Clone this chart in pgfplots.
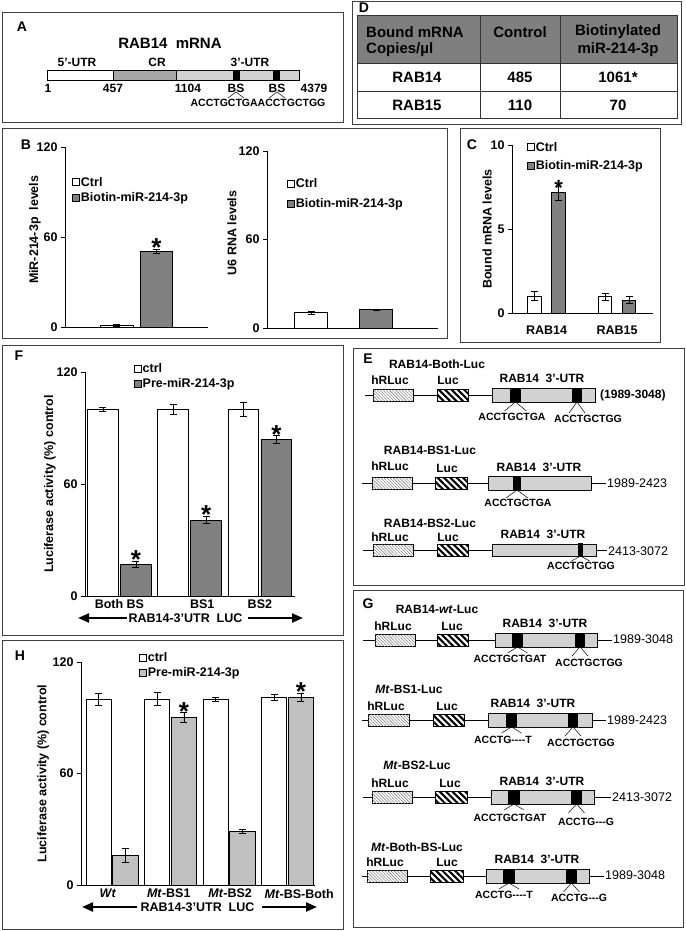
\documentclass[border=0pt]{standalone}
\usepackage{pgfplots}
\pgfplotsset{compat=1.18}
\usepackage{fontspec}
\setmainfont{Liberation Sans}
\usetikzlibrary{patterns,patterns.meta,arrows.meta}
\newcommand{\fs}[1]{\fontsize{#1}{#1}\selectfont}

\definecolor{darkbar}{HTML}{808080}
\definecolor{lightbar}{HTML}{C0C0C0}
\definecolor{crgray}{HTML}{A6A6A6}
\definecolor{hdrgray}{HTML}{7F7F7F}

\tikzset{
 lab/.style={font=\bfseries\fs{12}, inner sep=0pt},
 seq/.style={font=\bfseries\fs{10.5}, inner sep=0pt},
 num/.style={font=\fs{12.5}, inner sep=0pt, anchor=west},
 plet/.style={font=\bfseries\fs{14}, inner sep=0pt},
 sig/.style={font=\bfseries\fs{26}, inner sep=0pt, anchor=center},
 frame/.style={draw=black!75, line width=0.8pt},
 bigarrow/.style={line width=2.2pt, -{Triangle[length=11pt,width=9pt]}},
 tab/.style={font=\bfseries\fs{15}, inner sep=0pt},
}
% boxes: x1 x2 ycenter
\newcommand{\hR}[3]{\draw[line width=0.5pt, fill=white, postaction={pattern={Lines[angle=-45,distance=2.2pt,line width=0.4pt]}, pattern color=black!60}] (#1,#3-6) rectangle (#2,#3+6);}
\newcommand{\Lu}[3]{\draw[line width=0.5pt, fill=white, postaction={pattern={Lines[angle=-45,distance=4.5pt,line width=2.1pt]}, pattern color=black}] (#1,#3-6) rectangle (#2,#3+6);}
\newcommand{\UTR}[4]{\draw[line width=0.5pt, fill=white, postaction={pattern={Dots[distance=2pt,radius=0.6pt]}, pattern color=black!75}] (#1,#2) rectangle (#3,#4);}
\newcommand{\BS}[3]{\fill (#1,#3-7) rectangle (#2,#3+7);}
\newcommand{\Vee}[4]{\draw[line width=0.5pt] (#1-#3,#2+#4) -- (#1,#2) -- (#1+#3,#2+#4);}

\pgfplotsset{
 sqleg/.style={legend image code/.code={\draw[##1, line width=0.6pt] (0pt,-3.5pt) rectangle (7pt,3.5pt);}},
 panel/.style={
   scale only axis, ybar, enlargelimits=false, clip=false,
   axis x line*=bottom, axis y line*=left,
   axis line style={black, line width=0.8pt},
   ymin=0,
   tick align=outside, major tick length=4pt,
   ytick style={black, line width=0.8pt},
   xtick style={draw=none},
   tick label style={font=\bfseries\fs{12.5}},
   /pgf/number format/assume math mode=true,
   ylabel style={font=\bfseries\fs{12.5}, anchor=center},
   legend cell align=left,
   legend style={draw=none, fill=none, font=\bfseries\fs{12.5}, anchor=north west, inner sep=0pt, row sep=3pt, nodes={inner sep=1pt}},
   error bars/y dir=both, error bars/y explicit,
   error bars/error bar style={black, line width=0.7pt},
   error bars/error mark options={rotate=90, black, mark size=3.5pt, line width=0.7pt},
   every axis plot/.append style={line width=0.8pt},
 },
}

\begin{document}
\begin{tikzpicture}[x=1pt,y=1pt]
\path[use as bounding box] (0,0) rectangle (685,-931);

\begin{scope}[x=1pt,y=-1pt]
% frames
\draw[frame] (2,12) rectangle (343,122);
\draw[frame] (352,1) rectangle (681,124);
\draw[frame] (2,128) rectangle (447,338);
\draw[frame] (460,128) rectangle (660,342);
\draw[frame] (2,345) rectangle (343,635);
\draw[frame] (353,348) rectangle (684,585);
\draw[frame] (353,590) rectangle (683,927);
\draw[frame] (2,640) rectangle (343,929);
% panel letters
\node[plet] at (22,27) {A};
\node[plet] at (364,8) {D};
\node[plet] at (26,145) {B};
\node[plet] at (472,145) {C};
\node[plet] at (19,356) {F};
\node[plet] at (368,359) {E};
\node[plet] at (368,604) {G};
\node[plet] at (20,656) {H};

% ---- A ----
\node[font=\bfseries\fs{15}, inner sep=0pt] at (170,43) {RAB14\ \ mRNA};
\node[lab] at (77,62) {5’-UTR};
\node[lab] at (157,62) {CR};
\node[lab] at (250,62) {3’-UTR};
\draw[line width=0.5pt, fill=white] (47,70) rectangle (113,80);
\draw[line width=0.5pt, fill=crgray] (113,70) rectangle (176,80);
\UTR{176}{70}{299}{80}
\fill (233,70) rectangle (240,80);
\fill (273,70) rectangle (280,80);
\node[lab] at (48,88) {1};
\node[lab] at (113,88) {457};
\node[lab] at (188,88) {1104};
\node[lab] at (236,88) {BS};
\node[lab] at (277,88) {BS};
\node[lab] at (314,88) {4379};
\Vee{236}{92}{8}{6}
\Vee{277}{92}{8}{6}
\node[seq] at (258,103) {ACCTGCTGAACCTGCTGG};

% ---- D table ----
\fill[hdrgray] (357,15) rectangle (677,63);
\draw[line width=0.7pt, black!80] (357,15) rectangle (677,118);
\draw[line width=0.7pt, black!80] (357,63) -- (677,63) (357,91) -- (677,91) (480,15) -- (480,118) (560,15) -- (560,118);
\node[tab, anchor=west] at (366,32) {Bound mRNA};
\node[tab, anchor=west] at (366,50) {Copies/µl};
\node[tab] at (520,32) {Control};
\node[tab] at (618,32) {Biotinylated};
\node[tab] at (618,50) {miR-214-3p};
\node[tab] at (417,77) {RAB14};
\node[tab] at (520,77) {485};
\node[tab] at (618,77) {1061*};
\node[tab] at (417,105) {RAB15};
\node[tab] at (520,105) {110};
\node[tab] at (618,105) {70};

% ---- E ----
\node[lab] at (437,364) {RAB14-Both-Luc};
\node[lab] at (390,380) {hRLuc};
\node[lab] at (448,380) {Luc};
\node[lab] at (542,378) {RAB14\ \ 3’-UTR};
\draw[line width=0.6pt] (365,395) -- (492,395);
\hR{373}{413}{395} \Lu{437}{468}{395}
\UTR{492}{388}{595}{402}
\BS{510}{521}{395} \BS{572}{582}{395}
\node[lab, anchor=west] at (600,395) {(1989-3048)};
\Vee{515.5}{402}{11}{9} \Vee{577}{402}{8}{11}
\node[seq] at (512,417) {ACCTGCTGA};
\node[seq] at (588,419) {ACCTGCTGG};

\node[lab] at (430,450) {RAB14-BS1-Luc};
\node[lab] at (390,466) {hRLuc};
\node[lab] at (447,468) {Luc};
\node[lab] at (539,467) {RAB14\ \ 3’-UTR};
\draw[line width=0.6pt] (362,483) -- (488,483) (591,483) -- (606,483);
\hR{372}{412}{483} \Lu{435}{467}{483}
\UTR{488}{476}{591}{490}
\BS{513}{521}{483}
\node[num] at (607,483) {1989-2423};
\Vee{517}{490}{11}{8}
\node[seq] at (518,503) {ACCTGCTGA};

\node[lab] at (430,523) {RAB14-BS2-Luc};
\node[lab] at (390,537) {hRLuc};
\node[lab] at (448,537) {Luc};
\node[lab] at (543,534) {RAB14\ \ 3’-UTR};
\draw[line width=0.6pt] (363,550) -- (492,550) (596,550) -- (607,550);
\hR{373}{413}{550} \Lu{437}{468}{550}
\UTR{492}{544}{596}{556}
\BS{578}{583}{550}
\node[num] at (608,551) {2413-3072};
\Vee{580.5}{556}{9}{5}
\node[seq] at (581,566) {ACCTGCTGG};

% ---- G ----
\node[lab] at (437,609) {RAB14-\textit{wt}-Luc};
\node[lab] at (393,626) {hRLuc};
\node[lab] at (452,626) {Luc};
\node[lab] at (545,623) {RAB14\ \ 3’-UTR};
\draw[line width=0.6pt] (363,640) -- (495,640) (597,640) -- (612,640);
\hR{375}{415}{640} \Lu{437}{468}{640}
\UTR{495}{633}{597}{647}
\BS{512}{523}{640} \BS{575}{585}{640}
\node[num] at (613,639) {1989-3048};
\Vee{517.5}{647}{10}{6} \Vee{580}{647}{8}{9}
\node[seq] at (510,659) {ACCTGCTGAT};
\node[seq] at (589,663) {ACCTGCTGG};

\node[lab] at (409,689) {\textit{Mt}-BS1-Luc};
\node[lab] at (386,706) {hRLuc};
\node[lab] at (447,706) {Luc};
\node[lab] at (533,703) {RAB14\ \ 3’-UTR};
\draw[line width=0.6pt] (362,720) -- (488,720) (592,720) -- (606,720);
\hR{368}{409}{720} \Lu{433}{464}{720}
\UTR{488}{713}{592}{727}
\BS{506}{517}{720} \BS{568}{578}{720}
\node[num] at (607,720) {1989-2423};
\Vee{511.5}{727}{10}{6} \Vee{573}{727}{8}{9}
\node[seq] at (503,740) {ACCTG-{}-{}-{}-T};
\node[seq] at (581,743) {ACCTGCTGG};

\node[lab] at (417,765) {\textit{Mt}-BS2-Luc};
\node[lab] at (390,783) {hRLuc};
\node[lab] at (450,783) {Luc};
\node[lab] at (542,781) {RAB14\ \ 3’-UTR};
\draw[line width=0.6pt] (363,797) -- (491,797) (594,797) -- (611,797);
\hR{372}{412}{797} \Lu{435}{467}{797}
\UTR{491}{790}{594}{804}
\BS{508}{520}{797} \BS{571}{582}{797}
\node[num] at (612,797) {2413-3072};
\Vee{514}{804}{10}{6} \Vee{576.5}{804}{8}{9}
\node[seq] at (510,818) {ACCTGCTGAT};
\node[seq] at (586,822) {ACCTG-{}-{}-G};

\node[lab] at (417,847) {\textit{Mt}-Both-BS-Luc};
\node[lab] at (385,862) {hRLuc};
\node[lab] at (447,862) {Luc};
\node[lab] at (537,859) {RAB14\ \ 3’-UTR};
\draw[line width=0.6pt] (362,876) -- (486,876) (589,876) -- (604,876);
\hR{367}{407}{876} \Lu{430}{463}{876}
\UTR{486}{869}{589}{883}
\BS{503}{515}{876} \BS{566}{577}{876}
\node[num] at (605,875) {1989-3048};
\Vee{509}{883}{10}{6} \Vee{571.5}{883}{8}{9}
\node[seq] at (504,895) {ACCTG-{}-{}-{}-T};
\node[seq] at (579,898) {ACCTG-{}-{}-G};

% ---- arrows under F and H ----
\draw[bigarrow] (127,618) -- (78,618);
\node[font=\bfseries\fs{12.5}, inner sep=0pt] at (185.5,618) {RAB14-3’UTR\ \ LUC};
\draw[bigarrow] (248,618) -- (303,618);
\draw[bigarrow] (137,907) -- (82,907);
\node[font=\bfseries\fs{12.5}, inner sep=0pt] at (197.5,907) {RAB14-3’UTR\ \ LUC};
\draw[bigarrow] (262,907) -- (317,907);
\end{scope}

% ---- B1 ----
\begin{axis}[panel, at={(65pt,-327pt)}, anchor=south west, width=143pt, height=180pt,
  xmin=-1.29, xmax=2.29, ymax=120, ytick={0,60,120}, xtick=\empty, bar width=0.82,
  ylabel={MiR-214-3p\ \ levels}, ylabel style={at={(axis description cs:-0.21,0.54)}},
  legend style={at={(axis description cs:0.05,0.84)}}]
\addplot[fill=white, draw=black, bar shift=0, sqleg] coordinates {(0,1.3) +- (0,0.8)};
\addplot[fill=darkbar, draw=black, bar shift=0, sqleg] coordinates {(1,50.6) +- (0,1.2)};
\legend{Ctrl, Biotin-miR-214-3p}
\node[sig] at (axis cs:1,53) {*};
\end{axis}

% ---- B2 ----
\begin{axis}[panel, at={(267pt,-328pt)}, anchor=south west, width=171pt, height=177pt,
  xmin=-0.68, xmax=1.95, ymax=120, ytick={0,60,120}, xtick=\empty, bar width=0.51,
  ylabel={U6 RNA levels}, ylabel style={at={(axis description cs:-0.205,0.537)}},
  legend style={at={(axis description cs:0.117,0.85)}, row sep=7pt}]
\addplot[fill=white, draw=black, bar shift=0, sqleg] coordinates {(0,10.3) +- (0,1)};
\addplot[fill=darkbar, draw=black, bar shift=0, sqleg] coordinates {(1,12.3) +- (0,0.5)};
\legend{Ctrl, Biotin-miR-214-3p}
\end{axis}

% ---- C ----
\begin{axis}[panel, at={(512pt,-313pt)}, anchor=south west, width=141pt, height=168pt,
  xmin=-0.49, xmax=1.51, ymax=10, ytick={0,5,10}, xtick={0,1}, xticklabels={RAB14,RAB15}, bar width=0.19,
  xticklabel style={yshift=-5pt},
  ylabel={Bound mRNA levels}, ylabel style={at={(axis description cs:-0.177,0.5)}},
  legend style={at={(axis description cs:0.106,1.025)}, row sep=6pt}]
\addplot[fill=white, draw=black, bar shift=-0.17, sqleg] coordinates {(0,1.0) +- (0,0.27) (1,0.97) +- (0,0.2)};
\addplot[fill=darkbar, draw=black, bar shift=0.17, sqleg] coordinates {(0,7.2) +- (0,0.52) (1,0.77) +- (0,0.22)};
\legend{Ctrl, Biotin-miR-214-3p}
\node[sig, font=\bfseries\fs{22}] at (axis cs:0.17,7.45) {*};
\end{axis}

% ---- F ----
\begin{axis}[panel, at={(85pt,-596pt)}, anchor=south west, width=210pt, height=224pt,
  xmin=-0.49, xmax=2.5, ymax=120, ytick={0,60,120}, xtick={0,1.18,2}, xticklabels={Both BS,BS1,BS2}, bar width=0.44,
  xticklabel style={yshift=4pt},
  ylabel={Luciferase activity (\%) control}, ylabel style={at={(axis description cs:-0.167,0.5)}},
  legend style={at={(axis description cs:0.233,1.045)}}]
\addplot[fill=white, draw=black, bar shift=-0.235, sqleg] coordinates {(0,100) +- (0,0.9) (1,100) +- (0,2.9) (2,100) +- (0,3.6)};
\addplot[fill=darkbar, draw=black, bar shift=0.235, sqleg] coordinates {(0,17) +- (0,1.8) (1,40.7) +- (0,2) (2,83.9) +- (0,2)};
\legend{ctrl, Pre-miR-214-3p}
\node[sig] at (axis cs:0.235,19.5) {*};
\node[sig] at (axis cs:1.235,43.5) {*};
\node[sig] at (axis cs:2.235,86.5) {*};
\end{axis}

% ---- H ----
\begin{axis}[panel, at={(81pt,-885pt)}, anchor=south west, width=234pt, height=223pt,
  xmin=-0.53, xmax=3.47, ymax=120, ytick={0,60,120}, xtick={-0.07,0.97,2.02,3.2},
  xticklabels={\textit{Wt},\textit{Mt}-BS1,\textit{Mt}-BS2,\textit{Mt}-BS-Both}, bar width=0.43,
  xticklabel style={yshift=3.5pt},
  ylabel={Luciferase activity (\%) control}, ylabel style={at={(axis description cs:-0.162,0.5)}},
  legend style={at={(axis description cs:0.248,1.05)}}]
\addplot[fill=white, draw=black, bar shift=-0.23, sqleg] coordinates {(0,100) +- (0,3.3) (1,100) +- (0,3.5) (2,100) +- (0,1) (3,101) +- (0,1.5)};
\addplot[fill=lightbar, draw=black, bar shift=0.23, sqleg] coordinates {(0,16) +- (0,3.6) (1,90) +- (0,2.7) (2,29) +- (0,1) (3,101) +- (0,2.2)};
\legend{ctrl, Pre-miR-214-3p}
\node[sig] at (axis cs:1.23,93.5) {*};
\node[sig] at (axis cs:3.23,104) {*};
\end{axis}
\end{tikzpicture}
\end{document}
